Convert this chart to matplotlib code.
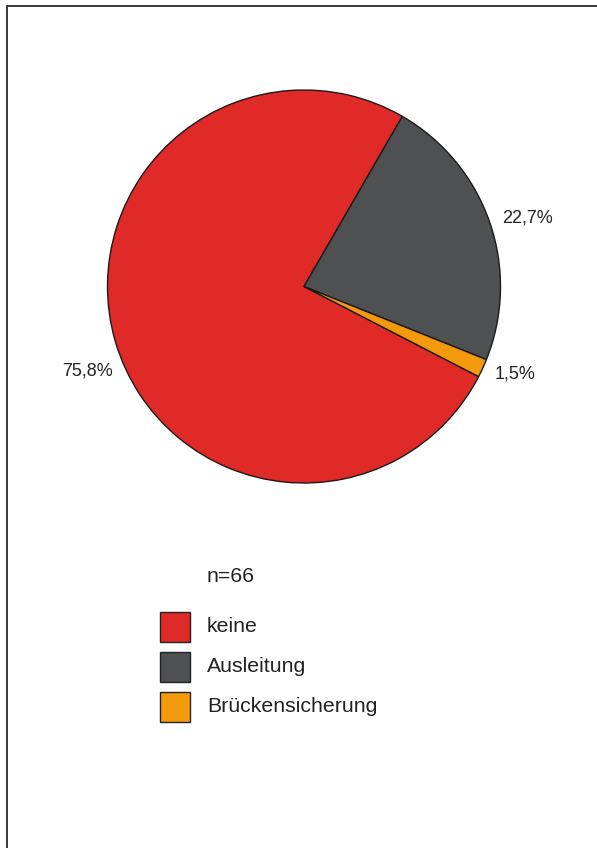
import matplotlib
matplotlib.use("Agg")
import matplotlib.pyplot as plt
from matplotlib.patches import Rectangle
import numpy as np

plt.rcParams['font.family'] = ['Liberation Sans', 'DejaVu Sans']
plt.rcParams['font.size'] = 13

# Massnahmen an der Leitung, Anzahl der Faelle (n=66)
categories = ["keine", "Ausleitung", "Brückensicherung"]
counts = [50, 15, 1]
colors = ["#E02A28", "#4F5052", "#F39A0C"]
# kleine Winkelkorrektur der Prozentangaben (Grad)
label_nudge = [7.5, 0, 0]

total = sum(counts)
W, H = 597, 848

fig = plt.figure(figsize=(W / 100, H / 100), dpi=100)

# Rahmen (nur oben und links sichtbar)
fig.add_artist(Rectangle((6.5 / W, -0.1), 1.2, 1.1 - 6.5 / H,
                         transform=fig.transFigure, fill=False,
                         edgecolor="#2a2a2a", linewidth=1.3))

ax = fig.add_axes([107.5 / W, 1 - 483 / H, 393 / W, 393 / H])
wedges, _ = ax.pie(counts, colors=colors, startangle=-27.3,
                   counterclock=False,
                   wedgeprops=dict(edgecolor="#1a1a1a", linewidth=1.0))
ax.set_xlim(-1, 1)
ax.set_ylim(-1, 1)
ax.set_aspect("equal")
ax.axis("off")

for w, c, nudge in zip(wedges, counts, label_nudge):
    mid = np.deg2rad((w.theta1 + w.theta2) / 2 + nudge)
    x = 1.065 * np.cos(mid)
    y = 1.065 * np.sin(mid)
    pct = "{:.1f}%".format(100 * c / total).replace(".", ",")
    ax.text(x, y, pct, ha="left" if x > 0 else "right", va="center",
            color="#222222", clip_on=False)

# Legende von Hand: Quadrate 30 px, Zeilenabstand 40 px
leg_fs = 15.3
fig.text(207 / W, 1 - 576 / H, "n={}".format(total), va="center",
         color="#222222", fontsize=leg_fs)
for i, (cat, col) in enumerate(zip(categories, colors)):
    top = 612 + 40 * i
    fig.add_artist(Rectangle((160 / W, 1 - (top + 30) / H), 30 / W, 30 / H,
                             transform=fig.transFigure, facecolor=col,
                             edgecolor="#222222", linewidth=1.0))
    fig.text(207 / W, 1 - (top + 15) / H, cat, va="center",
             color="#222222", fontsize=leg_fs)

fig.savefig("out.png", dpi=100)
